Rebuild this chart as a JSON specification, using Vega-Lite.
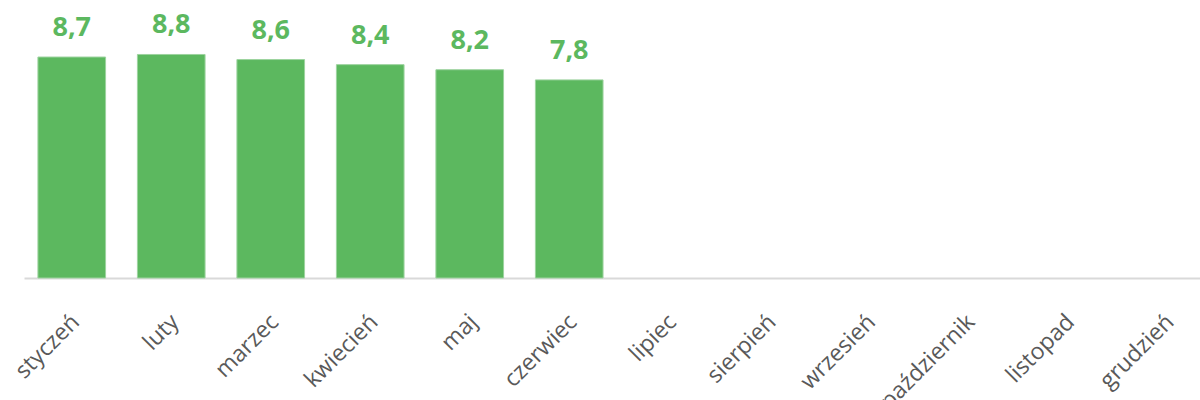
{
  "$schema": "https://vega.github.io/schema/vega-lite/v6.json",
  "width": 1176,
  "height": 254,
  "padding": {"left": 24, "top": 24, "right": 0, "bottom": 122},
  "autosize": {"type": "none"},
  "background": "white",
  "config": {"view": {"stroke": null}, "font": "Open Sans"},
  "data": {
    "values": [
      {"month": "styczeń", "value": 8.7, "label": "8,7"},
      {"month": "luty", "value": 8.8, "label": "8,8"},
      {"month": "marzec", "value": 8.6, "label": "8,6"},
      {"month": "kwiecień", "value": 8.4, "label": "8,4"},
      {"month": "maj", "value": 8.2, "label": "8,2"},
      {"month": "czerwiec", "value": 7.8, "label": "7,8"},
      {"month": "lipiec", "value": null, "label": ""},
      {"month": "sierpień", "value": null, "label": ""},
      {"month": "wrzesień", "value": null, "label": ""},
      {"month": "październik", "value": null, "label": ""},
      {"month": "listopad", "value": null, "label": ""},
      {"month": "grudzień", "value": null, "label": ""}
    ]
  },
  "encoding": {
    "x": {
      "field": "month",
      "type": "nominal",
      "sort": null,
      "scale": {
        "domain": ["styczeń", "luty", "marzec", "kwiecień", "maj", "czerwiec", "lipiec", "sierpień", "wrzesień", "październik", "listopad", "grudzień"],
        "paddingInner": 0.32,
        "paddingOuter": 0.07,
        "align": 1
      },
      "axis": {
        "title": null,
        "labelAngle": -45,
        "labelAlign": "right",
        "labelBaseline": "middle",
        "labelPadding": 40,
        "labelOffset": 4,
        "labelFontSize": 23,
        "labelColor": "#595959",
        "labelFont": "Open Sans",
        "labelOverlap": false,
        "labelBound": false,
        "ticks": false,
        "domainColor": "#d9d9d9",
        "domainWidth": 2,
        "grid": false
      }
    },
    "y": {
      "field": "value",
      "type": "quantitative",
      "scale": {"domain": [0, 10]},
      "axis": null
    }
  },
  "layer": [
    {
      "mark": {"type": "bar", "color": "#5cb85f", "stroke": "#9dd39f", "strokeWidth": 1}
    },
    {
      "mark": {"type": "text", "dy": -21, "baseline": "alphabetic", "fontSize": 27, "fontWeight": "bold", "color": "#5cb85f", "font": "Open Sans"},
      "encoding": {"text": {"field": "label"}}
    }
  ]
}
